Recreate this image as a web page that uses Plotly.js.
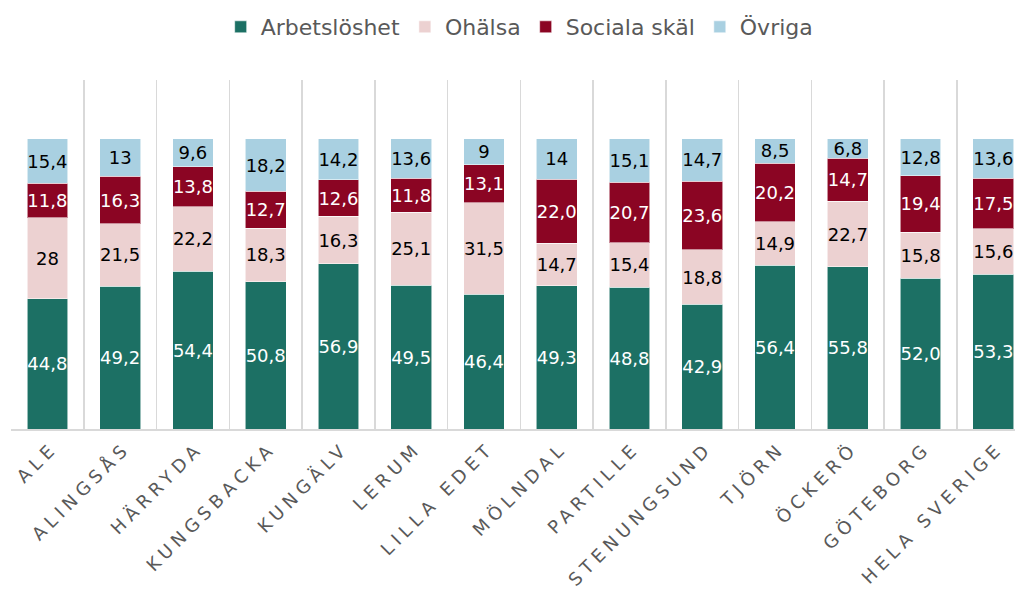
<!DOCTYPE html>
<html>
<head>
<meta charset="utf-8">
<script src="https://cdn.plot.ly/plotly-3.0.1.min.js"></script>
<style>
  html, body { margin: 0; padding: 0; background: #fff; }
  #chart { width: 1015px; height: 592px; }
  .xtick text { letter-spacing: 5px; }
</style>
</head>
<body>
<div id="chart"></div>
<script>
const categories = ["ALE", "ALINGSÅS", "HÄRRYDA", "KUNGSBACKA", "KUNGÄLV", "LERUM", "LILLA EDET",
  "MÖLNDAL", "PARTILLE", "STENUNGSUND", "TJÖRN", "ÖCKERÖ", "GÖTEBORG", "HELA SVERIGE"];

const arbetsloshet = [44.8, 49.2, 54.4, 50.8, 56.9, 49.5, 46.4, 49.3, 48.8, 42.9, 56.4, 55.8, 52.0, 53.3];
const ohalsa       = [28, 21.5, 22.2, 18.3, 16.3, 25.1, 31.5, 14.7, 15.4, 18.8, 14.9, 22.7, 15.8, 15.6];
const socialaSkal  = [11.8, 16.3, 13.8, 12.7, 12.6, 11.8, 13.1, 22.0, 20.7, 23.6, 20.2, 14.7, 19.4, 17.5];
const ovriga       = [15.4, 13, 9.6, 18.2, 14.2, 13.6, 9, 14, 15.1, 14.7, 8.5, 6.8, 12.8, 13.6];

const arbetsloshetLabels = ["44,8", "49,2", "54,4", "50,8", "56,9", "49,5", "46,4", "49,3", "48,8", "42,9", "56,4", "55,8", "52,0", "53,3"];
const ohalsaLabels       = ["28", "21,5", "22,2", "18,3", "16,3", "25,1", "31,5", "14,7", "15,4", "18,8", "14,9", "22,7", "15,8", "15,6"];
const socialaSkalLabels  = ["11,8", "16,3", "13,8", "12,7", "12,6", "11,8", "13,1", "22,0", "20,7", "23,6", "20,2", "14,7", "19,4", "17,5"];
const ovrigaLabels       = ["15,4", "13", "9,6", "18,2", "14,2", "13,6", "9", "14", "15,1", "14,7", "8,5", "6,8", "12,8", "13,6"];

const FONT = "DejaVu Sans, Liberation Sans, sans-serif";

function series(name, y, labels, color, textColor) {
  return {
    type: "bar",
    name: name,
    x: categories,
    y: y,
    text: labels,
    texttemplate: "%{text}",
    textposition: "inside",
    insidetextanchor: "middle",
    constraintext: "none",
    textangle: 0,
    textfont: { family: FONT, size: 18, color: textColor },
    marker: { color: color, line: { color: "rgba(255,255,255,0.55)", width: 1 } },
    hoverinfo: "skip"
  };
}

const data = [
  series("Arbetslöshet", arbetsloshet, arbetsloshetLabels, "#1c7064", "#ffffff"),
  series("Ohälsa", ohalsa, ohalsaLabels, "#ecd1d1", "#000000"),
  series("Sociala skäl", socialaSkal, socialaSkalLabels, "#8b0523", "#ffffff"),
  series("Övriga", ovriga, ovrigaLabels, "#a9d0e1", "#000000")
];

const plotLeft = 10.5;
const catWidth = 72.8;
const plotWidth = 1015 - plotLeft;

const layout = {
  width: 1015,
  height: 592,
  margin: { l: plotLeft, r: 0, t: 80, b: 163 },
  paper_bgcolor: "#ffffff",
  plot_bgcolor: "#ffffff",
  barmode: "stack",
  bargap: 0.44,
  font: { family: FONT, color: "#595959" },
  showlegend: true,
  legend: {
    orientation: "h",
    xref: "container",
    yref: "container",
    x: 0.512,
    xanchor: "center",
    y: 1 - 27 / 592,
    yanchor: "middle",
    font: { family: FONT, size: 22, color: "#595959" },
    traceorder: "normal",
    itemclick: false
  },
  xaxis: {
    type: "category",
    range: [-0.5, -0.5 + plotWidth / catWidth],
    tickson: "boundaries",
    showgrid: true,
    gridcolor: "#d9d9d9",
    gridwidth: 1.5,
    showline: true,
    linecolor: "#d9d9d9",
    linewidth: 1.5,
    ticks: "",
    tickangle: -45,
    ticklabelshift: 5,
    ticklabelstandoff: 0,
    tickfont: { family: FONT, size: 18, color: "#595959" },
    automargin: false,
    fixedrange: true
  },
  yaxis: {
    range: [0, 120.2],
    showgrid: false,
    zeroline: false,
    showticklabels: false,
    showline: false,
    fixedrange: true
  }
};

Plotly.newPlot("chart", data, layout, { displayModeBar: false, staticPlot: true });
</script>
</body>
</html>
